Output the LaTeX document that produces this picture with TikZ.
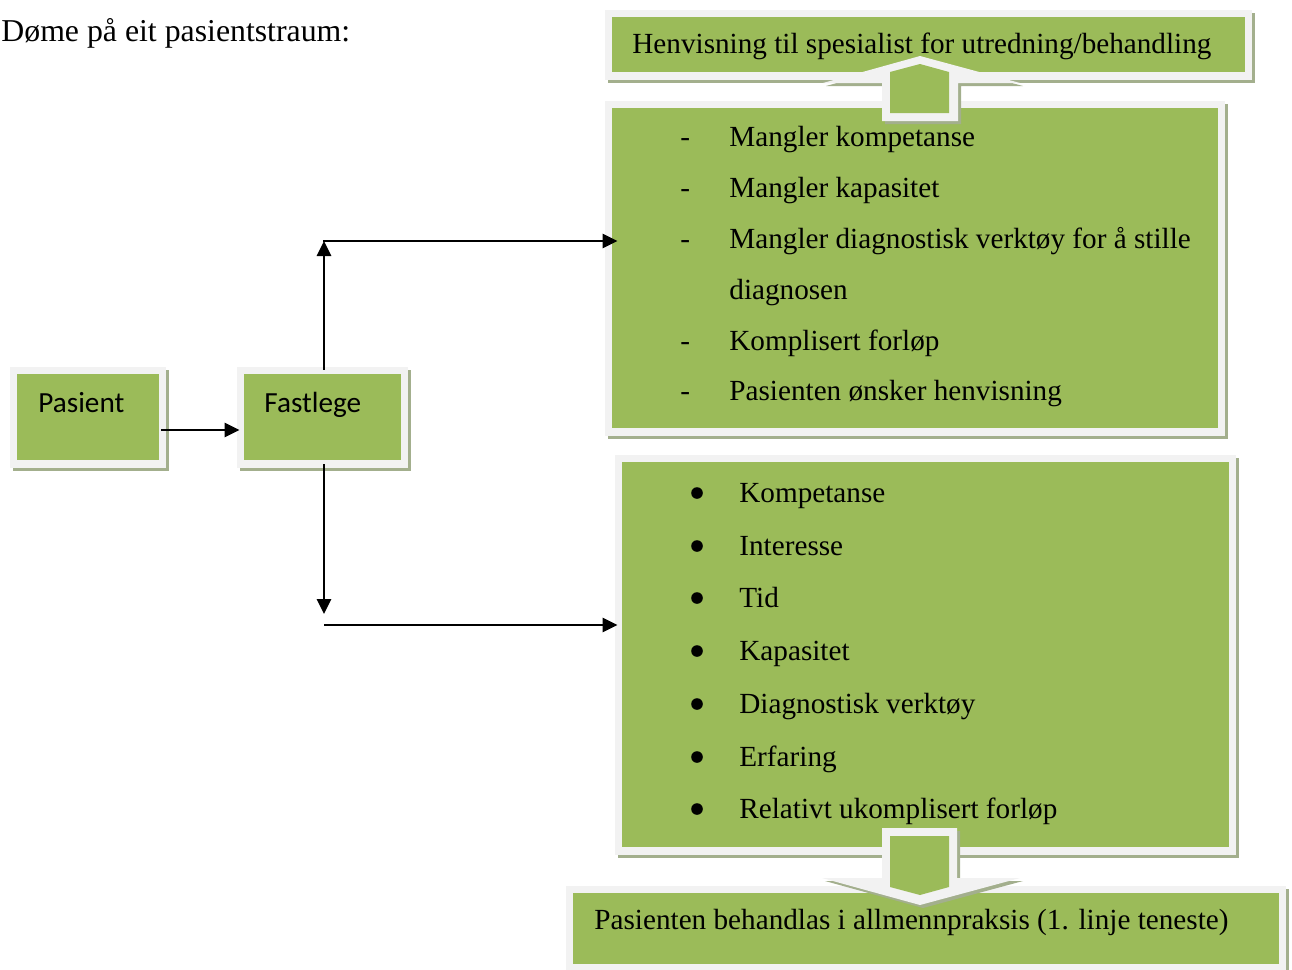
\documentclass[tikz,border=0pt]{standalone}
\usepackage{fontspec}
\setmainfont{Liberation Serif}
\newfontfamily\calfont{Carlito}
\usetikzlibrary{arrows.meta,fit,shadows}
\definecolor{gr}{HTML}{9BBB59}
\definecolor{lg}{HTML}{F2F2F2}
\definecolor{sh}{HTML}{A3AF8D}
\begin{document}
\begin{tikzpicture}[x=0.5pt,y=-0.5pt,
  gbox/.style={inner sep=0pt, fill=lg,
    drop shadow={shadow xshift=1.5pt, shadow yshift=-1.5pt, fill=sh, opacity=1},
    path picture={\fill[gr] ([xshift=3.6pt,yshift=-3.6pt]path picture bounding box.north west) rectangle ([xshift=-3.6pt,yshift=4pt]path picture bounding box.south east);}},
  txt/.style={anchor=base west, inner sep=0pt, font=\fontsize{14.6}{17}\selectfont},
  ctxt/.style={anchor=base west, inner sep=0pt, font=\calfont\fontsize{14.6}{17}\selectfont},
  ln/.style={line width=1.35pt, -{Triangle[length=7.5pt,width=7pt]}},
  bul/.style={circle, fill=black, inner sep=0pt, minimum size=5.8pt}]
\useasboundingbox (0,0) rectangle (1292,970);

% heading
\node[anchor=base west, inner sep=0pt, font=\fontsize{15.9}{19}\selectfont] (title) at (1,41) {Døme på eit pasientstraum:};

% boxes
\node[gbox, fit={(10,367)(166,468)}] (pas) {};
\node[gbox, fit={(237,367)(408,468)}] (fast) {};
\node[gbox, fit={(605,10)(1252,80)}] (hen) {};
\node[gbox, fit={(605,101)(1225,436)}] (b1) {};
\node[gbox, fit={(615,455)(1236,855)}] (b2) {};
\node[gbox, fit={(566,886)(1286,972)}] (bot) {};

% block arrow up
\fill[sh] (885,124) -- (885,86) -- (826,86) -- (923,59) -- (1023,86) -- (961,86) -- (961,124) -- cycle;
\fill[lg] (882,121) -- (882,83) -- (823,83) -- (920,56) -- (1020,83) -- (958,83) -- (958,121) -- cycle;
\fill[gr] (890,113) -- (890,72) -- (920,64) -- (949,72) -- (949,113) -- cycle;

% block arrow down
\fill[sh] (885,831) -- (960,831) -- (960,881) -- (1023,881) -- (923,908) -- (825,881) -- (885,881) -- cycle;
\fill[lg] (882,828) -- (957,828) -- (957,878) -- (1020,878) -- (920,905) -- (822,878) -- (882,878) -- cycle;
\fill[gr] (890,836) -- (949,836) -- (949,887) -- (920,895) -- (890,887) -- cycle;

% connectors
\coordinate (c1) at (324,241);
\coordinate (c2) at (324,625);
\coordinate (c3) at (324,614);
\draw[ln] ([xshift=-2.5pt,yshift=-6.25pt]pas.east) -- ([xshift=1.5pt,yshift=-6.25pt]fast.west);
\draw[ln] ([xshift=0.75pt,yshift=-1.5pt]fast.north) -- (c1);
\draw[line width=1.35pt] ([xshift=-0.5pt]c1) -- ++(20,0);
\draw[ln] (c1) -- ([xshift=6.5pt]b1.west |- c1);
\draw[ln] ([xshift=0.75pt,yshift=2pt]fast.south) -- (c3);
\draw[ln] (c2) -- ([xshift=1.5pt]b2.west |- c2);

% texts
\node[ctxt] (tpas) at (38,412) {Pasient};
\node[ctxt] (tfast) at (264,412) {Fastlege};
\node[txt] (then) at (632,53) {Henvisning til spesialist for utredning/behandling};

\node[txt] (d1) at (680,146) {-};
\node[txt] (l1) at (729,146) {Mangler kompetanse};
\node[txt] (d2) at (680,197) {-};
\node[txt] (l2) at (729,197) {Mangler kapasitet};
\node[txt] (d3) at (680,248) {-};
\node[txt] (l3) at (729,248) {Mangler diagnostisk verktøy for å stille};
\node[txt] (l3b) at (729,299) {diagnosen};
\node[txt] (d4) at (680,350) {-};
\node[txt] (l4) at (729,350) {Komplisert forløp};
\node[txt] (d5) at (680,400) {-};
\node[txt] (l5) at (729,400) {Pasienten ønsker henvisning};

\foreach \y/\t [count=\i] in {502/Kompetanse,555/Interesse,607/Tid,660/Kapasitet,713/Diagnostisk verktøy,766/Erfaring,818/Relativt ukomplisert forløp}{
  \node[bul] (bu\i) at (697,\y-9) {};
  \node[txt] (k\i) at (739,\y) {\t};
}

\node[txt] (tbot) at (594,929) {Pasienten behandlas i allmennpraksis (1. linje teneste)};
\end{tikzpicture}
\end{document}
